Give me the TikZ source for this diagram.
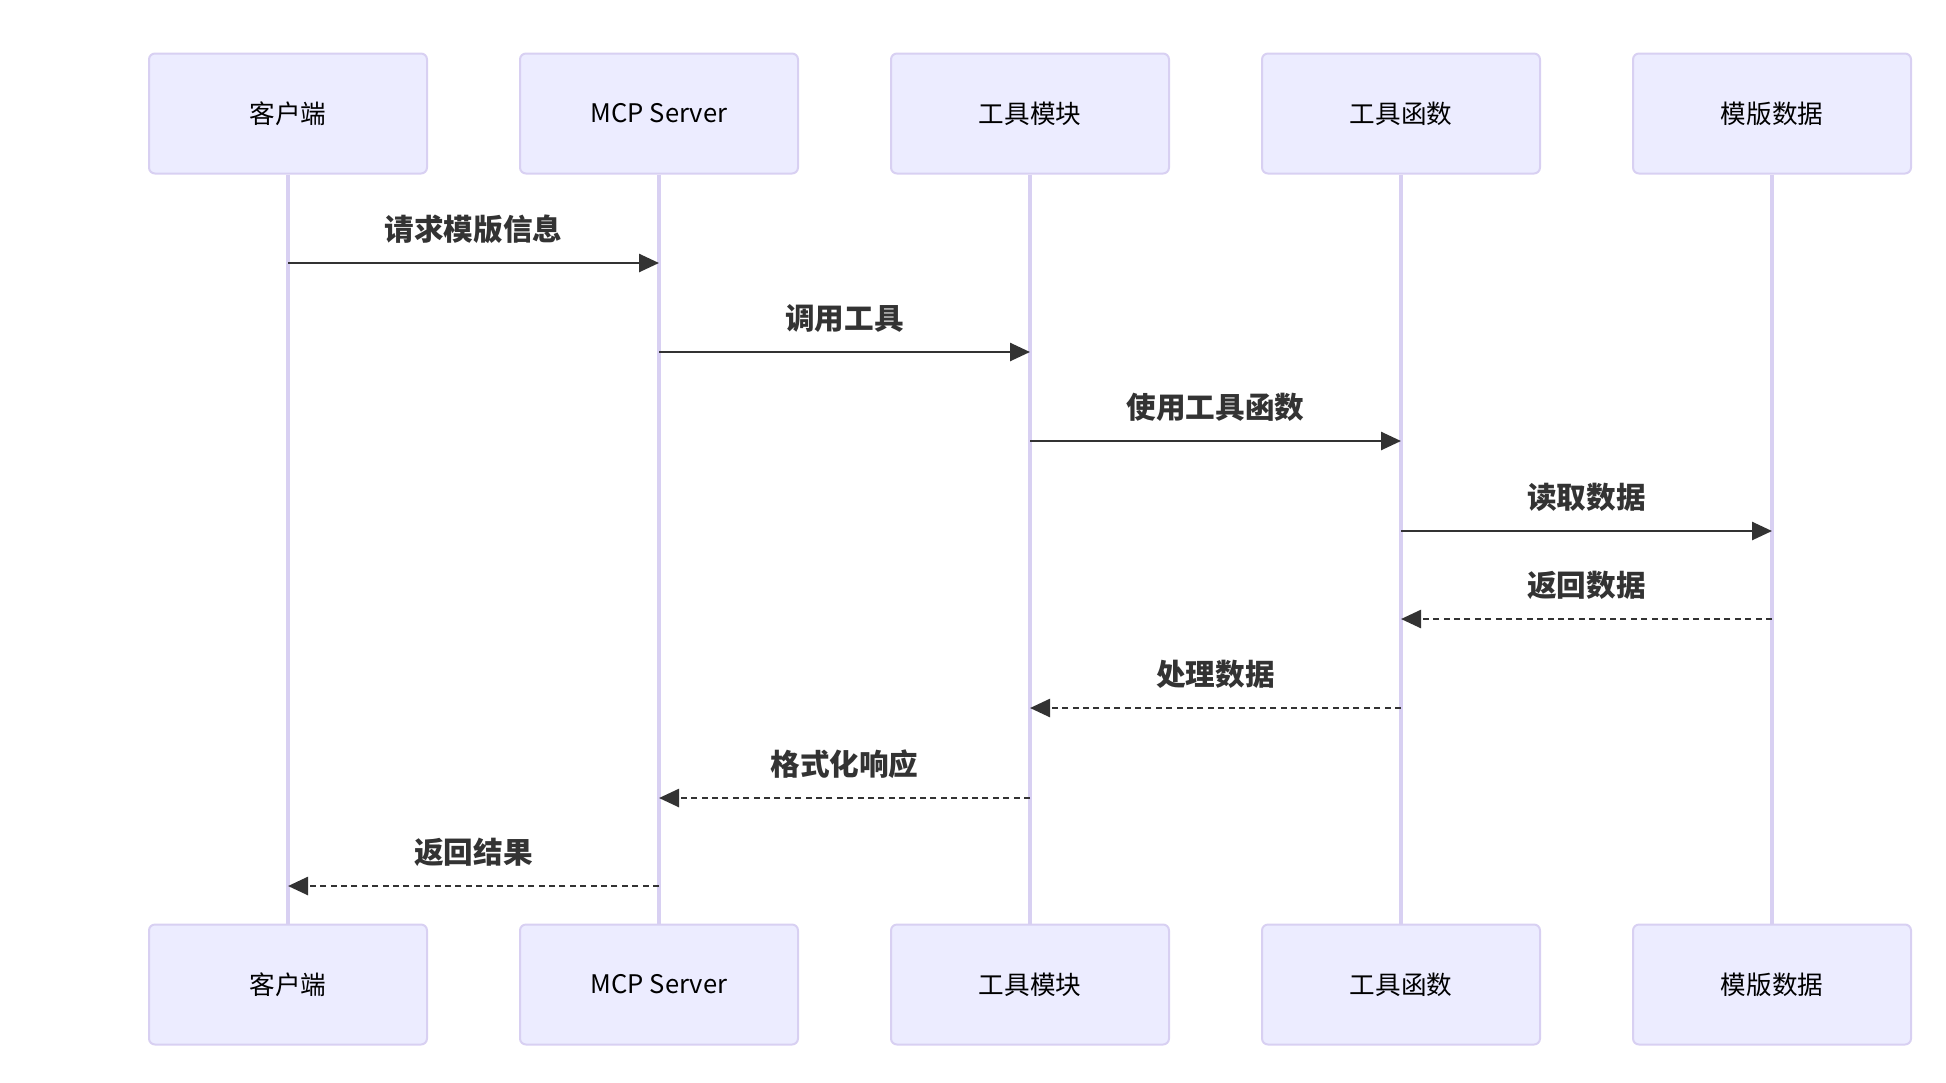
\documentclass[tikz,border=0pt]{standalone}
\usepackage{fontspec}
\setmainfont{Noto Sans CJK SC}
\usetikzlibrary{positioning, arrows.meta}

\definecolor{actfill}{HTML}{ECECFF}
\definecolor{actline}{HTML}{D8D0F2}
\definecolor{msgcol}{HTML}{333333}

\tikzset{
    actor/.style={draw=actline, line width=1pt, fill=actfill, rounded corners=3pt,
        minimum width=139pt, minimum height=60pt, font=\fontsize{12.8}{15}\selectfont},
    life/.style={draw=actline, line width=1.6pt},
    call/.style={draw=msgcol, line width=1.3pt, -{Triangle[length=10pt, width=9pt]}},
    reply/.style={call, dash pattern=on 3pt off 2.2pt},
    msg/.style={midway, yshift=17pt, text=msgcol, font=\bfseries\fontsize{14.8}{17}\selectfont},
}

\begin{document}
\begin{tikzpicture}[x=0.5pt, y=-0.5pt]
    \useasboundingbox (0, 0) rectangle (1946, 1082);

    %% Actors
    \begin{scope}
        % Top
        \node[actor] (cli)  at (288, 113.5)  {客户端};
        \node[actor] (srv)  at (659, 113.5)  {MCP Server};
        \node[actor] (tool) at (1030, 113.5) {工具模块};
        \node[actor] (func) at (1401, 113.5) {工具函数};
        \node[actor] (data) at (1772, 113.5) {模版数据};

        % Bottom
        \node[actor] (cli-b)  at (288, 984.5)  {客户端};
        \node[actor] (srv-b)  at (659, 984.5)  {MCP Server};
        \node[actor] (tool-b) at (1030, 984.5) {工具模块};
        \node[actor] (func-b) at (1401, 984.5) {工具函数};
        \node[actor] (data-b) at (1772, 984.5) {模版数据};

        % Lifelines
        \foreach \n in {cli, srv, tool, func, data}
            \draw[life] (\n.south) -- (\n-b.north);
    \end{scope}

    %% Messages
    \foreach \a/\b/\y/\txt/\kind in {
        cli/srv/263/请求模版信息/call,
        srv/tool/352/调用工具/call,
        tool/func/441/使用工具函数/call,
        func/data/531/读取数据/call,
        data/func/619/返回数据/reply,
        func/tool/708/处理数据/reply,
        tool/srv/798/格式化响应/reply,
        srv/cli/886/返回结果/reply}
    {
        \coordinate (m) at (0, \y);
        \draw[\kind] (\a |- m) -- node[msg] {\txt} (\b |- m);
    }
\end{tikzpicture}
\end{document}
